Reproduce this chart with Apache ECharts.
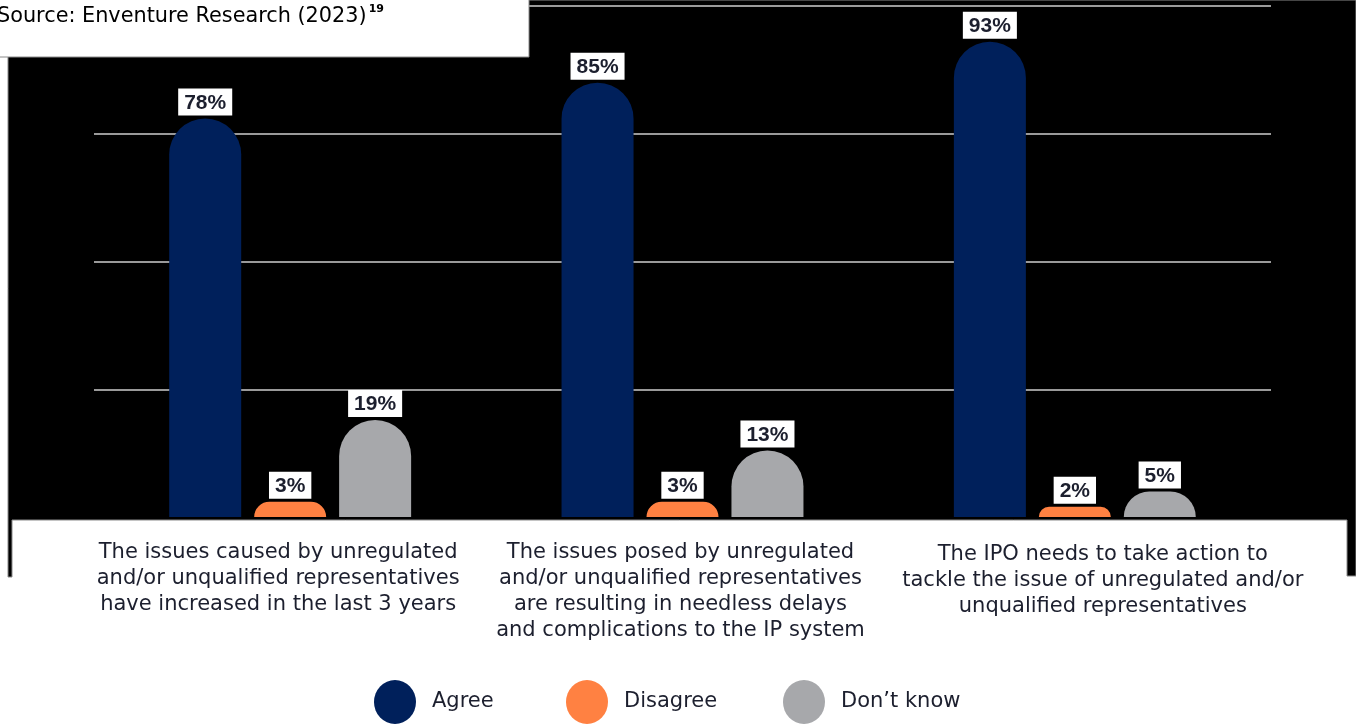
<!DOCTYPE html>
<html>
<head>
<meta charset="utf-8">
<title>Unregulated representatives survey</title>
<script src="https://cdn.jsdelivr.net/npm/echarts@6/dist/echarts.min.js"></script>
<style>
  html, body { margin: 0; padding: 0; background: #ffffff; }
  #chart { width: 1356px; height: 724px; }
</style>
</head>
<body>
<div id="chart"></div>
<script>
// Survey statements (x-axis categories)
const categories = [
  'The issues caused by unregulated\nand/or unqualified representatives\nhave increased in the last 3 years',
  'The issues posed by unregulated\nand/or unqualified representatives\nare resulting in needless delays\nand complications to the IP system',
  'The IPO needs to take action to\ntackle the issue of unregulated and/or\nunqualified representatives'
];

// Share of respondents (%)
const agree = [78, 85, 93];
const disagree = [3, 3, 2];
const dontKnow = [19, 13, 5];

const seriesNames = ['Agree', 'Disagree', 'Don\u2019t know'];
const seriesColors = ['#00205b', '#ff8142', '#a7a8ab'];

const sourceText = 'Source: Enventure Research (2023)';
const sourceNote = '19';

const textDark = '#1c1f2e';
const bodyFont = 'DejaVu Sans';
const ellipseIcon = 'path://M0,22 A21,22 0 1,1 42,22 A21,22 0 1,1 0,22 Z';

// nudges of the statement blocks under each group ([top, right, bottom, left])
const statementPadding = [[0, 24, 0, 0], [0, 4, 0, 0], [2, 0, 0, 56]];

const chart = echarts.init(document.getElementById('chart'), null, { renderer: 'canvas' });

function barSeries(name, values, color) {
  return {
    name: name,
    type: 'bar',
    data: values,
    barWidth: 72,
    barGap: '18%',
    itemStyle: { color: color, borderRadius: [36, 36, 0, 0] },
    label: {
      show: true,
      position: 'top',
      distance: 3,
      formatter: '{c}%',
      backgroundColor: '#ffffff',
      padding: [4, 6, 2, 6],
      color: textDark,
      fontFamily: 'Liberation Sans',
      fontWeight: 'bold',
      fontSize: 21
    }
  };
}

function legendAt(name, left, textPad) {
  return {
    data: [name],
    left: left,
    top: 680,
    padding: 0,
    icon: ellipseIcon,
    itemWidth: 42,
    itemHeight: 44,
    selectedMode: false,
    textStyle: {
      fontFamily: bodyFont,
      fontSize: 21,
      color: textDark,
      padding: textPad
    }
  };
}

const option = {
  animation: false,
  backgroundColor: '#ffffff',
  grid: { left: 94, right: 85, top: 6, bottom: 207 },
  xAxis: {
    type: 'category',
    data: categories.map(function (c, i) {
      return { value: c, textStyle: { padding: statementPadding[i] } };
    }),
    axisLine: { show: false },
    axisTick: { show: false },
    axisLabel: {
      interval: 0,
      margin: 23,
      fontFamily: bodyFont,
      fontSize: 21,
      lineHeight: 26,
      color: textDark,
      align: 'center'
    }
  },
  yAxis: {
    type: 'value',
    min: 0,
    max: 100,
    interval: 25,
    axisLabel: { show: false },
    axisLine: { show: false },
    axisTick: { show: false },
    splitLine: {
      show: true,
      lineStyle: {
        color: ['rgba(0,0,0,0)', '#9a9a9a', '#9a9a9a', '#9a9a9a', '#9a9a9a'],
        width: 2
      }
    }
  },
  legend: [
    legendAt(seriesNames[0], 374, [0, 0, 0, 11]),
    legendAt(seriesNames[1], 566, [0, 0, 0, 11]),
    legendAt(seriesNames[2], 783, [0, 0, 5, 11])
  ],
  graphic: [
    {
      // dark panel behind the plot
      type: 'polygon',
      z: -10,
      silent: true,
      shape: {
        points: [[8, 0], [1356, 0], [1356, 576], [1347, 576], [1347, 520],
                 [12, 520], [12, 577], [8, 577]]
      },
      style: { fill: '#000000', stroke: '#8a8a8a', lineWidth: 1 }
    },
    {
      // source caption box
      type: 'rect',
      z: 100,
      silent: true,
      shape: { x: -2, y: -2, width: 531, height: 59 },
      style: { fill: '#ffffff', stroke: '#8a8a8a', lineWidth: 1 }
    },
    {
      type: 'text',
      z: 101,
      silent: true,
      left: -3,
      top: 4,
      style: {
        text: '{t|' + sourceText + '}{s|' + sourceNote + '}',
        rich: {
          t: { fontFamily: bodyFont, fontSize: 20.8, color: textDark, lineHeight: 26 },
          s: { fontFamily: bodyFont, fontSize: 11, fontWeight: 'bold', color: textDark,
               verticalAlign: 'top', padding: [0, 0, 14, 2] }
        }
      }
    }
  ],
  series: [
    barSeries(seriesNames[0], agree, seriesColors[0]),
    barSeries(seriesNames[1], disagree, seriesColors[1]),
    barSeries(seriesNames[2], dontKnow, seriesColors[2])
  ]
};

chart.setOption(option);
</script>
</body>
</html>
